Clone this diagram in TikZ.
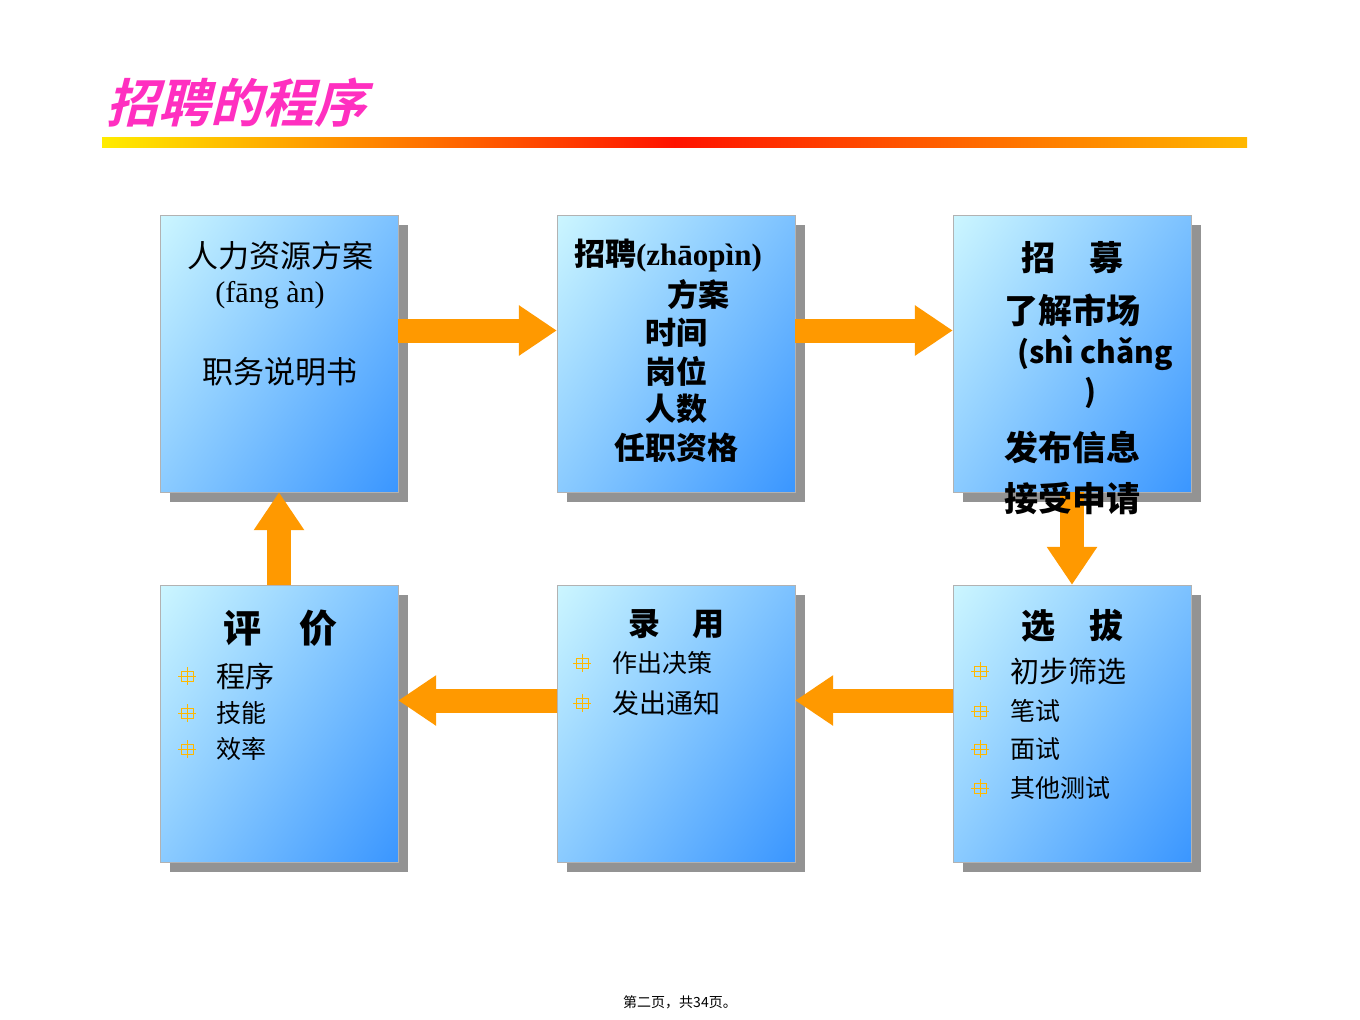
\documentclass[tikz,border=0pt]{standalone}
\usepackage{fontspec}
\setmainfont{Noto Sans CJK SC}
\newfontfamily\pyfont{Liberation Serif}
\newfontfamily\titlefont[FakeSlant=0.25]{Noto Sans CJK SC Bold}
\usetikzlibrary{arrows.meta,calc,shadings}
\definecolor{boxlight}{HTML}{CCF6FF}
\definecolor{boxdark}{HTML}{3A96FF}
\definecolor{flow}{HTML}{FF9900}
\definecolor{titlepink}{HTML}{FF2FC0}
\newcommand\bul{\tikz[baseline=-3pt]{\draw[flow!70!yellow,line width=0.7pt] (-6pt,-5pt) rectangle (6pt,5pt) (-9pt,0)--(9pt,0) (0,-9pt)--(0,9pt);}}
\tikzset{
    stepbox/.style={minimum width=238, minimum height=277, inner sep=0pt},
    flowarrow/.style={flow, line width=24pt, -{Triangle[width=48pt,length=38pt]}},
    boxtext/.style={font=\fontsize{31}{34}\selectfont, inner sep=0pt},
    headtext/.style={font=\fontsize{34}{38}\selectfont\bfseries, inner sep=0pt},
    itemtext/.style={font=\fontsize{25}{30}\selectfont, anchor=west, inner sep=0pt},
}
\newcommand\stepbox[3]{% name, x, y (top left)
    \fill[gray!85] (#2+10,#3+10) rectangle (#2+248,#3+287);
    \shade[upper left=boxlight, lower right=boxdark, upper right=boxlight!45!boxdark, lower left=boxlight!55!boxdark]
        (#2,#3) rectangle (#2+238,#3+277);
    \draw[gray!60] (#2,#3) rectangle (#2+238,#3+277);
    \node[stepbox] (#1) at (#2+119,#3+138.5) {};
}
\begin{document}
\begin{tikzpicture}[x=1pt,y=-1pt]
    \useasboundingbox[fill=white] (0,0) rectangle (1360,1020);

    % title
    \node[font=\fontsize{52}{56}\selectfont\titlefont, text=titlepink, anchor=west, inner sep=0pt] (title) at (106,103) {招聘的程序};
    \shade[left color=yellow!85!orange, right color=flow!70!yellow, middle color=red!85!orange]
        (102,137) rectangle (1247,147);

    % boxes
    \stepbox{plan}{160}{215}
    \stepbox{scheme}{557}{215}
    \stepbox{recruit}{953}{215}
    \stepbox{assess}{160}{585}
    \stepbox{hire}{557}{585}
    \stepbox{select}{953}{585}

    % arrows
    \draw[flowarrow] ($(plan.east)+(0,-23)$) -- ($(scheme.west)+(0,-23)$);
    \draw[flowarrow] ($(scheme.east)+(0,-23)$) -- ($(recruit.west)+(0,-23)$);
    \draw[flowarrow] (recruit.south) -- (select.north);
    \draw[flowarrow] ($(select.west)+(0,-23)$) -- ($(hire.east)+(0,-23)$);
    \draw[flowarrow] ($(hire.west)+(0,-23)$) -- ($(assess.east)+(0,-23)$);
    \draw[flowarrow] (assess.north) -- (plan.south);

    % box 1
    \node[boxtext] (p1) at (280,256) {人力资源方案};
    \node[boxtext, font=\fontsize{30}{34}\selectfont\pyfont] (p2) at (270,295) {(fāng àn)};
    \node[boxtext] (p3) at (280,372) {职务说明书};

    % box 2
    \node[boxtext, font=\fontsize{31}{34}\selectfont\bfseries] (s1) at (668,256) {招聘{\pyfont\bfseries(zhāopìn)}};
    \node[boxtext, font=\fontsize{31}{34}\selectfont\bfseries] (s2) at (698,295) {方案};
    \node[boxtext, font=\fontsize{31}{34}\selectfont\bfseries] (s3) at (676,333) {时间};
    \node[boxtext, font=\fontsize{31}{34}\selectfont\bfseries] (s4) at (676,371) {岗位};
    \node[boxtext, font=\fontsize{31}{34}\selectfont\bfseries] (s5) at (676,409) {人数};
    \node[boxtext, font=\fontsize{31}{34}\selectfont\bfseries] (s6) at (676,448) {任职资格};

    % box 3
    \node[headtext] (r1) at (1072,258) {招\quad 募};
    \node[headtext] (r2) at (1072,310) {了解市场};
    \node[boxtext, font=\fontsize{30}{34}\selectfont\bfseries] (r3) at (1095,353) {(shì chǎng};
    \node[boxtext, font=\fontsize{30}{34}\selectfont\bfseries] (r4) at (1090,393) {)};
    \node[headtext] (r5) at (1072,447) {发布信息};
    \node[headtext] (r6) at (1072,498) {接受申请};

    % box 4
    \node[headtext, font=\fontsize{38}{42}\selectfont\bfseries] (a0) at (280,628) {评\quad 价};
    \node[inner sep=0pt] (ab1) at (187,676) {\bul};
    \node[inner sep=0pt] (ab2) at (187,713) {\bul};
    \node[inner sep=0pt] (ab3) at (187,749) {\bul};
    \node[itemtext, font=\fontsize{29}{32}\selectfont] (a1) at (216,676) {程序};
    \node[itemtext] (a2) at (216,713) {技能};
    \node[itemtext] (a3) at (216,749) {效率};

    % box 5
    \node[headtext, font=\fontsize{32}{36}\selectfont\bfseries] (h0) at (676,624) {录\quad 用};
    \node[inner sep=0pt] (hb1) at (582,663) {\bul};
    \node[inner sep=0pt] (hb2) at (582,703) {\bul};
    \node[itemtext] (h1) at (612,663) {作出决策};
    \node[itemtext, font=\fontsize{27}{32}\selectfont] (h2) at (612,703) {发出通知};

    % box 6
    \node[headtext] (e0) at (1072,626) {选\quad 拔};
    \node[inner sep=0pt] (eb1) at (980,671) {\bul};
    \node[inner sep=0pt] (eb2) at (980,711) {\bul};
    \node[inner sep=0pt] (eb3) at (980,749) {\bul};
    \node[inner sep=0pt] (eb4) at (980,788) {\bul};
    \node[itemtext, font=\fontsize{29}{32}\selectfont] (e1) at (1010,671) {初步筛选};
    \node[itemtext] (e2) at (1010,711) {笔试};
    \node[itemtext] (e3) at (1010,749) {面试};
    \node[itemtext] (e4) at (1010,788) {其他测试};

    % footer
    \node[font=\fontsize{14}{16}\selectfont, inner sep=0pt] (foot) at (680,1002) {第二页，共34页。};
\end{tikzpicture}
\end{document}
